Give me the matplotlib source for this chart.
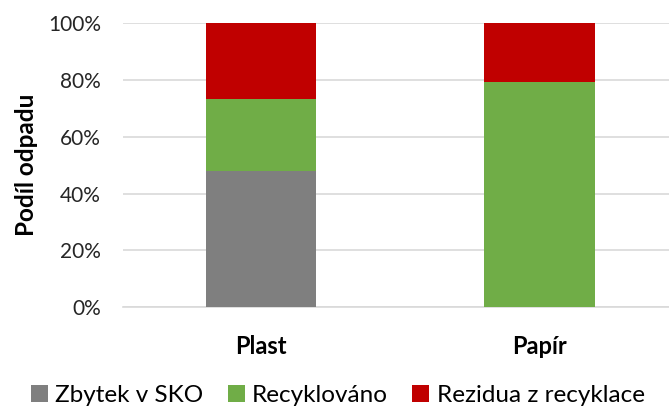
import matplotlib
matplotlib.use('Agg')
import matplotlib.pyplot as plt
import numpy as np

categories = ['Plast', 'Papír']
series_names = ['Zbytek v SKO', 'Recyklováno', 'Rezidua z recyklace']
zbytek = [0.48, 0.0]
recyklovano = [0.253, 0.791]
rezidua = [0.267, 0.209]
colors = ['#7f7f7f', '#70ad47', '#c00000']

plt.rcParams['font.family'] = ['Lato', 'DejaVu Sans']

fig = plt.figure(figsize=(6.69, 4.08), dpi=100)
ax = fig.add_axes([123 / 669, 0.2468, 1 - 123 / 669, 0.6968])

x = np.arange(len(categories))
width = 0.397
bottom = np.zeros(len(categories))
for name, vals, col in zip(series_names, [zbytek, recyklovano, rezidua], colors):
    ax.bar(x, vals, width, bottom=bottom, color=col, label=name, zorder=3)
    bottom += np.array(vals)

ax.set_xlim(-0.4955, 1.465)
ax.set_ylim(0, 1)
ax.set_yticks(np.arange(0, 1.01, 0.2))
ax.set_yticklabels(['{:d}%'.format(int(round(v * 100))) for v in np.arange(0, 1.01, 0.2)],
                   fontsize=15, color='#262626')
ax.set_xticks(x)
ax.set_xticklabels(categories, fontsize=17, fontweight='bold')
ax.tick_params(length=0)
ax.tick_params(axis='y', pad=16)
ax.tick_params(axis='x', pad=20)
ax.grid(axis='y', color='#d9d9d9', linewidth=1.2, zorder=0)
for s in ['top', 'right', 'left']:
    ax.spines[s].set_visible(False)
ax.spines['bottom'].set_color('#d9d9d9')
ax.spines['bottom'].set_linewidth(1.2)

ax.set_ylabel('Podíl odpadu', fontsize=17.5, fontweight='bold', labelpad=7)

fig.legend(loc='center', bbox_to_anchor=(0.505, 0.03), ncol=3, frameon=False,
           fontsize=17.5, handlelength=0.7, handleheight=0.7, handletextpad=0.3,
           columnspacing=1.0)

fig.savefig('out.png', dpi=100)
